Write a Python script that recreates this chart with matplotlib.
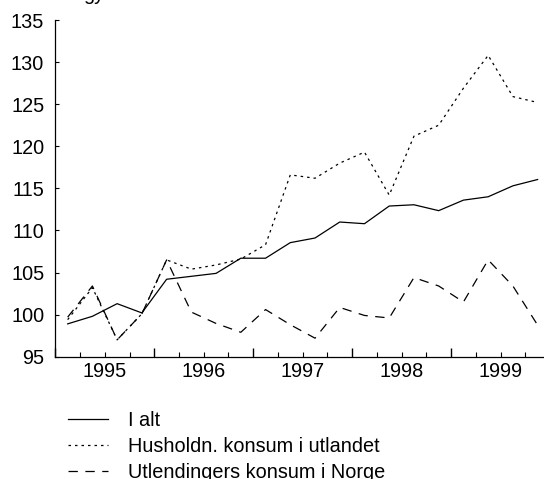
import matplotlib
matplotlib.use("Agg")
import matplotlib.pyplot as plt
import numpy as np
from matplotlib.ticker import FixedLocator, FuncFormatter

# kvartalsdata 1995K1 - 1999K4
aar = [1995, 1996, 1997, 1998, 1999]
kvartal = np.array([a + (k + 0.5) / 4 for a in aar for k in range(4)])

i_alt = [98.9, 99.8, 101.3, 100.2,
         104.2, 104.55, 104.9, 106.7,
         106.7, 108.55, 109.1, 111.0,
         110.8, 112.9, 113.05, 112.35,
         113.6, 114.0, 115.3, 116.05]
husholdn = [99.4, 103.2, 97.0, 100.1,
            106.5, 105.4, 105.9, 106.6,
            108.3, 116.6, 116.2, 118.0,
            119.3, 114.2, 121.2, 122.5,
            126.9, 130.8, 125.9, 125.2]
utlendinger = [99.7, 103.4, 97.0, 100.1,
               106.5, 100.3, 98.95, 97.9,
               100.6, 98.8, 97.2, 100.85,
               99.9, 99.6, 104.4, 103.4,
               101.5, 106.5, 103.4, 98.75]

etiketter = ['I alt', 'Husholdn. konsum i utlandet', 'Utlendingers konsum i Norge']

plt.rcParams['font.family'] = ['Liberation Sans', 'DejaVu Sans']
plt.rcParams['font.size'] = 14.3

fig = plt.figure(figsize=(5.44, 4.79), dpi=100)
ax = fig.add_axes([55.3 / 544, 122.3 / 479, (550 - 55.3) / 544, (356.7 - 20) / 479])

l1, = ax.plot(kvartal, i_alt, color='black', lw=0.9, linestyle='-')
l2, = ax.plot(kvartal, husholdn, color='black', lw=0.9, linestyle=(0, (2, 3.2)))
l3, = ax.plot(kvartal, utlendinger, color='black', lw=0.9, linestyle=(0, (7.5, 6)))

ax.set_xlim(1995, 2000)
ax.set_ylim(95, 135)
ax.set_yticks(np.arange(95, 136, 5))

# lange streker ved årsskifte, korte ved kvartal, årstall midt i året
ax.set_xticks(np.arange(1995, 2001))
ax.set_xticklabels([])
kv_grenser = [a + k / 4 for a in aar for k in (1, 2, 3)]
ax.xaxis.set_minor_locator(FixedLocator(kv_grenser))
ax.xaxis.set_minor_formatter(FuncFormatter(
    lambda x, pos: str(int(x)) if abs(x % 1 - 0.5) < 1e-6 else ''))

ax.tick_params(axis='x', which='major', direction='in', length=6.5, width=1)
ax.tick_params(axis='x', which='minor', direction='in', length=3.5, width=0.8, pad=3.5)
ax.tick_params(axis='y', direction='in', length=3, width=0.8, pad=8)

for s in ['top', 'right']:
    ax.spines[s].set_visible(False)
for s in ['left', 'bottom']:
    ax.spines[s].set_linewidth(0.9)

fig.legend([l1, l2, l3], etiketter, loc='upper left',
           bbox_to_anchor=(67.7 / 544, 1 - 410.5 / 479), frameon=False,
           borderpad=0, borderaxespad=0, handlelength=2.04, handletextpad=1.0,
           labelspacing=0.36)

# avkuttet overskrift øverst
fig.text(83 / 544, 1.0, 'gy', ha='left', va='baseline')

fig.savefig('out.png', dpi=100)
